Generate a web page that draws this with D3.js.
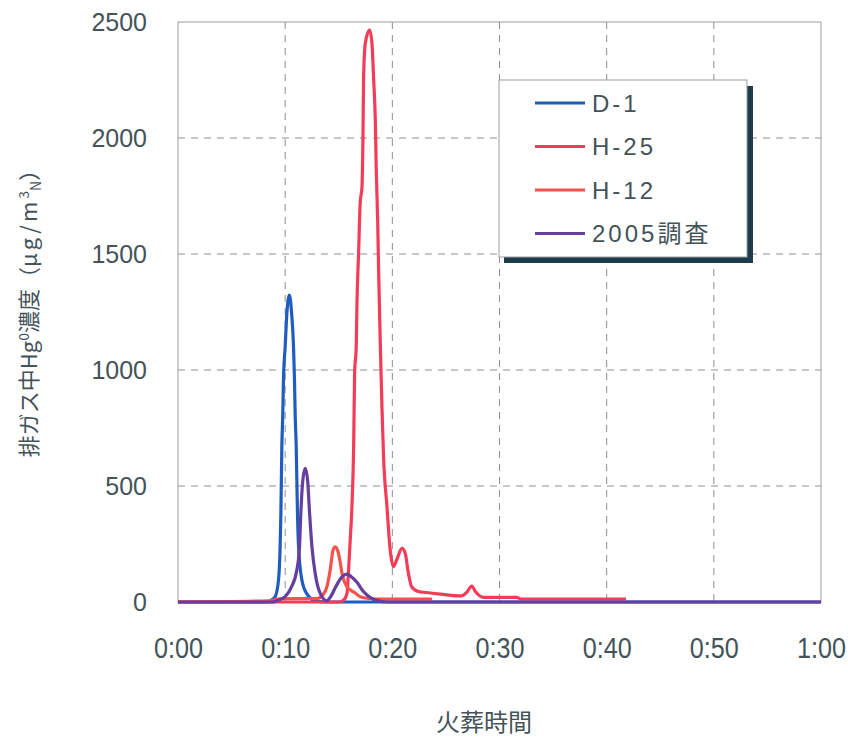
<!DOCTYPE html>
<html>
<head>
<meta charset="utf-8">
<script src="https://cdn.jsdelivr.net/npm/d3@7"></script>
<style>
  body { margin: 0; background: #fff; }
  svg text { fill: #435359; }
</style>
</head>
<body>
<div id="chart"></div>
<script>
// series: [minutes, concentration]
const d1 = [[0,0],[8.3,0],[8.7,8],[9.07,23],[9.38,95],[9.53,238],[9.6,382],[9.69,670],[9.78,813],[9.84,957],[10.0,1100],[10.16,1245],[10.4,1323],[10.6,1245],[10.78,1100],[10.87,957],[10.93,813],[11.03,670],[11.09,526],[11.15,382],[11.25,238],[11.56,95],[12.0,37],[12.8,5],[14,0],[60,0]];
const h25 = [[0,0],[15.0,0],[15.5,10],[15.77,37],[15.9,124],[16.07,267],[16.23,411],[16.4,698],[16.48,986],[16.63,1100],[16.7,1288],[16.85,1503],[17.0,1719],[17.17,1790],[17.26,2006],[17.32,2264],[17.48,2408],[17.88,2466],[18.1,2408],[18.26,2250],[18.41,2078],[18.5,1862],[18.63,1647],[18.72,1431],[18.88,1108],[19.03,842],[19.18,626],[19.5,411],[19.8,224],[20.1,152],[20.4,181],[20.9,231],[21.2,210],[21.5,124],[21.8,66],[22.4,45],[22.9,42],[24.5,34],[26.4,26],[27.0,45],[27.4,69],[27.75,45],[28.5,20],[31.6,20],[32,13],[41.8,13]];
const h12 = [[0,0],[8.5,5],[9.5,14],[13.0,15],[13.5,30],[13.9,66],[14.2,138],[14.47,224],[14.67,238],[14.98,209],[15.1,181],[15.3,124],[15.77,66],[16.5,40],[17.0,23],[17.9,15],[19,12],[23.7,12]];
const s2005 = [[0,0],[8.8,0],[9.2,5],[10.0,23],[10.6,66],[11.09,138],[11.34,238],[11.46,382],[11.65,526],[11.87,576],[12.09,526],[12.28,382],[12.5,238],[12.8,124],[13.27,37],[13.9,5],[14.2,20],[14.83,75],[15.3,108],[15.77,120],[16.2,108],[16.7,85],[17.3,45],[18.0,18],[18.6,6],[19.5,0],[60,0]];

const seriesNames = ['D-1', 'H-25', 'H-12', '2005調査'];
const seriesColors = ['#1f5cc0', '#f23c58', '#f5524c', '#653ea0'];
const seriesData = [d1, h25, h12, s2005];

const xTicks = [0, 10, 20, 30, 40, 50, 60];
const xTickLabels = ['0:00', '0:10', '0:20', '0:30', '0:40', '0:50', '1:00'];
const yTicks = [0, 500, 1000, 1500, 2000, 2500];

const width = 848, height = 743;
const svg = d3.select('#chart').append('svg')
  .attr('width', width)
  .attr('height', height)
  .style('font-family', '"Liberation Sans", Arial, sans-serif');

const x = d3.scaleLinear().domain([0, 60]).range([178, 821]);
const y = d3.scaleLinear().domain([0, 2500]).range([602, 22]);

// grid
svg.append('g').selectAll('line').data(xTicks.slice(1, -1)).join('line')
  .attr('x1', d => x(d)).attr('x2', d => x(d))
  .attr('y1', y(2500)).attr('y2', y(0))
  .attr('stroke', '#8a8f92').attr('stroke-width', 1).attr('stroke-dasharray', '7,6');
svg.append('g').selectAll('line').data(yTicks.slice(1, -1)).join('line')
  .attr('x1', x(0)).attr('x2', x(60))
  .attr('y1', d => y(d)).attr('y2', d => y(d))
  .attr('stroke', '#8a8f92').attr('stroke-width', 1).attr('stroke-dasharray', '7,6');

// plot frame
svg.append('rect')
  .attr('x', x(0)).attr('y', y(2500))
  .attr('width', x(60) - x(0)).attr('height', y(0) - y(2500))
  .attr('fill', 'none').attr('stroke', '#9a9fa2').attr('stroke-width', 1);

// axes
const yAxis = svg.append('g')
  .attr('transform', `translate(${x(0)},0)`)
  .call(d3.axisLeft(y).tickValues(yTicks).tickFormat(d3.format('d')).tickSize(0).tickPadding(31));
yAxis.select('.domain').remove();
yAxis.selectAll('text').style('font-size', '25px').style('font-family', '"Liberation Sans", Arial, sans-serif');

const xAxis = svg.append('g')
  .attr('transform', `translate(0,${y(0)})`)
  .call(d3.axisBottom(x).tickValues(xTicks).tickFormat((d, i) => xTickLabels[i]).tickSize(0).tickPadding(35));
xAxis.select('.domain').remove();
xAxis.selectAll('text')
  .attr('transform', 'scale(0.84,1)')
  .style('font-size', '30px')
  .style('font-family', '"Liberation Sans", Arial, sans-serif');

// lines
const line = d3.line().curve(d3.curveMonotoneX).x(d => x(d[0])).y(d => y(d[1]));
svg.append('g').selectAll('path').data(seriesData).join('path')
  .attr('d', line)
  .attr('fill', 'none')
  .attr('stroke', (d, i) => seriesColors[i])
  .attr('stroke-width', 3.2)
  .attr('stroke-linejoin', 'round');

// axis titles
svg.append('text')
  .attr('x', 484).attr('y', 731)
  .attr('text-anchor', 'middle')
  .style('font-size', '24px')
  .style('font-family', '"Noto Sans CJK JP", sans-serif')
  .text('火葬時間');

const yt = svg.append('text')
  .attr('transform', 'translate(37,308) rotate(-90)')
  .attr('text-anchor', 'middle')
  .style('font-size', '22px')
  .style('font-family', '"Noto Sans CJK JP", sans-serif');
yt.append('tspan').text('排ガス中Hg');
yt.append('tspan').attr('dy', -8).style('font-size', '14px').text('0');
yt.append('tspan').attr('dy', 8).text('濃度（');
yt.append('tspan').style('letter-spacing', '3px').text('μg/m');
yt.append('tspan').attr('dy', -8).style('font-size', '14px').text('3');
yt.append('tspan').attr('dy', 12).style('font-size', '14px').text('N');
yt.append('tspan').attr('dy', -4).text('）');

// legend
const lg = svg.append('g');
lg.append('rect').attr('x', 504).attr('y', 86).attr('width', 249).attr('height', 177).attr('fill', '#1e3b4b');
lg.append('rect').attr('x', 499).attr('y', 80).attr('width', 248).attr('height', 177)
  .attr('fill', '#fff').attr('stroke', '#9a9fa2').attr('stroke-width', 1);
const rows = lg.selectAll('g.row').data(seriesNames).join('g')
  .attr('class', 'row')
  .attr('transform', (d, i) => `translate(0,${103 + i * 43.5})`);
rows.append('line').attr('x1', 535).attr('x2', 585).attr('y1', 0).attr('y2', 0)
  .attr('stroke', (d, i) => seriesColors[i]).attr('stroke-width', 3.2);
rows.append('text').attr('x', 592).attr('dy', '0.36em')
  .style('font-size', '24px')
  .style('letter-spacing', '3px')
  .style('font-family', '"Liberation Sans", "Noto Sans CJK JP", sans-serif')
  .text(d => d);
</script>
</body>
</html>
